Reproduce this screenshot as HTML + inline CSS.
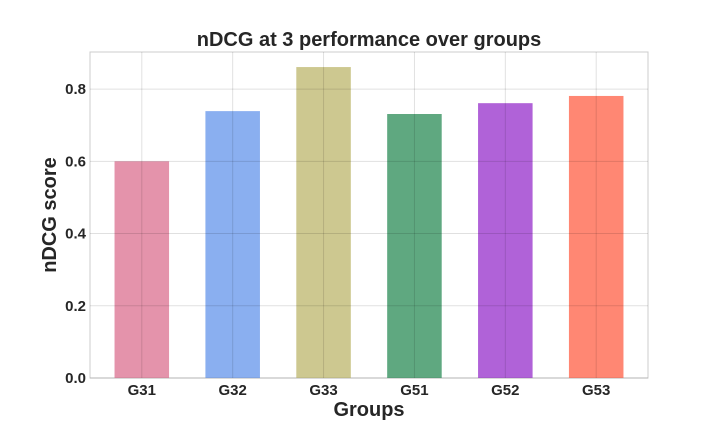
<!DOCTYPE html>
<html><head><meta charset="utf-8"><style>
body{margin:0;background:#fff;}
svg{display:block;font-family:"Liberation Sans",Arial,sans-serif;}
</style></head><body>
<svg id="chart" width="720" height="432"></svg>
<script>
const categories = ["G31","G32","G33","G51","G52","G53"];
const values = [0.60, 0.739, 0.861, 0.731, 0.761, 0.781];
const colors = ["#e493ab","#8aaff0","#cdc890","#5fa880","#b062d8","#ff8773"];
const yTicks = [0.0, 0.2, 0.4, 0.6, 0.8];
const yTickLabels = ["0.0","0.2","0.4","0.6","0.8"];

const NS="http://www.w3.org/2000/svg";
const svg=document.getElementById("chart");
const L=90,R=648,T=52,B=378;
const xMin=-0.57,xMax=5.57,yMin=0,yMax=0.9027;
const xs=i=>L+(i-xMin)/(xMax-xMin)*(R-L);
const ys=v=>B-(v-yMin)/(yMax-yMin)*(B-T);
function mk(tag,attrs,parent){const e=document.createElementNS(NS,tag);for(const k in attrs)e.setAttribute(k,attrs[k]);(parent||svg).appendChild(e);return e;}

const frame=mk("rect",{x:L,y:T,width:R-L,height:B-T,fill:"#fff",stroke:"#ccc","stroke-width":1});



categories.forEach((c,i)=>{
  const w=0.6*(R-L)/(xMax-xMin);
  const r=mk("rect",{x:xs(i)-w/2,y:ys(values[i]),width:w,height:ys(0)-ys(values[i]),fill:colors[i]});
  
  
  const t=mk("text",{x:xs(i),y:B+17,"text-anchor":"middle","font-size":15,"font-weight":"bold",fill:"#262626"});
  t.textContent=c;
  
  
  const g=mk("line",{x1:xs(i),x2:xs(i),y1:T,y2:B,stroke:"#000","stroke-opacity":0.12,"stroke-width":1});
  
  
});
yTicks.forEach((v,i)=>{
  const g=mk("line",{x1:L,x2:R,y1:ys(v),y2:ys(v),stroke:"#000","stroke-opacity":0.12,"stroke-width":1});
  
  
  const t=mk("text",{x:L-4,y:ys(v)+5,"text-anchor":"end","font-size":15,"font-weight":"bold",fill:"#262626"});
  t.textContent=yTickLabels[i];
  
  
});
const title=mk("text",{x:369,y:46,"text-anchor":"middle","font-size":20,"font-weight":"bold",fill:"#262626"});
title.textContent="nDCG at 3 performance over groups";


const xt=mk("text",{x:369,y:416,"text-anchor":"middle","font-size":20,"font-weight":"bold",fill:"#262626"});
xt.textContent="Groups";


const yt=mk("text",{x:56,y:215,"text-anchor":"middle","font-size":20,"font-weight":"bold",fill:"#262626",transform:"rotate(-90 56 215)"});
yt.textContent="nDCG score";


</script>
</body></html>
